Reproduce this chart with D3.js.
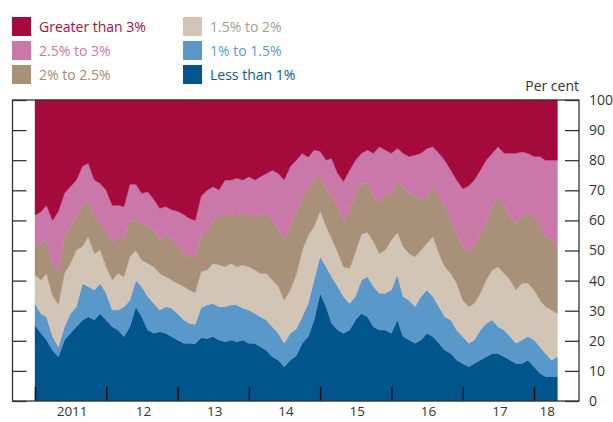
<!DOCTYPE html>
<html>
<head>
<meta charset="utf-8">
<script src="https://cdn.jsdelivr.net/npm/d3@7"></script>
<style>
  body { margin: 0; background: #fff; }
  svg { display: block; font-family: 'Open Sans', sans-serif; }
</style>
</head>
<body>
<div id="chart"></div>
<script>
// monthly shares (per cent), Jan 2011 .. May 2018
const lessThan1 = [
  25.2, 22.5, 20.3, 16.9, 14.7, 20.3, 22.5, 24.7, 26.9, 28.0,
  26.9, 29.1, 26.9, 24.7, 23.6, 21.4, 24.7, 31.3, 28.0, 23.6,
  22.5, 23.0, 22.5, 21.4, 20.3, 19.2, 19.2, 19.0, 21.0, 20.8,
  21.4, 20.3, 19.7, 20.3, 19.7, 20.3, 19.2, 19.2, 18.0, 16.9,
  14.7, 13.6, 11.4, 13.6, 15.0, 19.2, 21.4, 26.9, 35.8, 31.3,
  25.8, 23.6, 22.5, 23.6, 26.9, 29.1, 28.0, 24.7, 23.6, 23.6,
  22.5, 27.0, 21.4, 20.3, 19.2, 20.3, 22.5, 21.4, 19.2, 16.9,
  15.8, 13.6, 12.5, 11.4, 12.5, 13.6, 14.7, 15.8, 15.8, 14.7,
  13.6, 12.5, 12.5, 13.6, 11.4, 9.2, 8.1, 8.1, 8.1
];
const from1to1_5 = [
  7.2, 6.5, 7.7, 4.5, 3.3, 4.4, 6.5, 6.6, 12.1, 10.0,
  10.0, 9.9, 8.9, 5.5, 6.6, 9.9, 8.8, 8.7, 10.0, 11.1,
  9.9, 7.2, 8.8, 9.4, 8.7, 7.8, 6.6, 6.5, 10.0, 11.1,
  11.0, 11.0, 11.6, 11.6, 12.2, 10.5, 11.0, 9.9, 10.0, 10.0,
  10.0, 8.9, 7.8, 8.9, 9.0, 8.8, 11.0, 13.3, 12.2, 13.3,
  15.5, 14.4, 12.2, 8.8, 7.8, 11.1, 13.3, 13.3, 12.2, 12.2,
  14.4, 15.0, 13.3, 13.2, 12.1, 14.4, 14.4, 13.3, 12.1, 11.1,
  11.1, 10.0, 8.9, 7.8, 7.8, 10.0, 11.1, 11.1, 8.9, 8.9,
  7.8, 6.7, 7.8, 7.8, 8.9, 8.8, 7.7, 5.5, 6.6
];
const from1_5to2 = [
  9.5, 11.2, 14.4, 13.6, 14.0, 17.7, 16.7, 18.9, 12.3, 16.6,
  12.1, 11.2, 8.8, 10.0, 12.2, 10.0, 14.5, 10.0, 8.8, 11.0,
  12.2, 12.2, 10.0, 9.4, 10.0, 11.0, 11.1, 10.5, 12.0, 11.6,
  13.3, 13.9, 13.3, 13.8, 12.7, 14.4, 14.4, 14.4, 14.4, 15.5,
  15.5, 15.5, 14.3, 14.4, 18.0, 22.0, 22.6, 17.8, 15.0, 13.4,
  12.7, 11.5, 9.8, 11.6, 14.8, 15.3, 14.7, 15.0, 13.2, 14.4,
  16.6, 14.0, 16.6, 15.5, 16.5, 15.5, 15.5, 19.9, 17.7, 16.6,
  15.5, 15.5, 12.1, 12.1, 12.1, 12.2, 14.4, 16.6, 19.9, 18.8,
  18.8, 17.7, 18.8, 17.7, 16.6, 15.5, 15.5, 16.6, 14.4
];
const from2to2_5 = [
  9.9, 12.2, 11.1, 10.0, 11.0, 12.2, 12.2, 11.0, 13.3, 12.4,
  12.2, 8.8, 12.2, 12.2, 12.2, 12.2, 12.0, 10.0, 12.2, 12.3,
  12.2, 11.1, 13.7, 13.3, 12.3, 11.0, 11.1, 11.5, 12.0, 12.5,
  14.4, 16.6, 16.6, 16.6, 16.6, 17.7, 16.6, 18.3, 18.8, 20.5,
  19.9, 18.8, 20.0, 21.0, 21.0, 16.8, 15.1, 15.4, 12.0, 12.1,
  13.9, 15.1, 15.6, 18.3, 19.5, 16.8, 16.3, 14.9, 16.7, 18.8,
  14.4, 17.0, 19.9, 20.0, 20.1, 16.6, 15.5, 16.6, 18.9, 20.0,
  17.7, 16.6, 17.8, 18.2, 18.9, 19.9, 18.8, 21.1, 23.3, 22.2,
  21.0, 22.1, 22.1, 23.2, 24.3, 24.4, 23.3, 23.3, 21.9
];
const from2_5to3 = [
  10.0, 10.5, 11.5, 15.0, 20.0, 14.4, 13.3, 12.2, 13.4, 12.0,
  12.2, 13.3, 13.2, 12.6, 10.4, 11.1, 12.0, 12.0, 10.0, 11.5,
  10.2, 10.5, 9.6, 10.0, 11.7, 13.0, 12.7, 12.5, 13.0, 14.0,
  11.1, 8.3, 12.2, 11.1, 12.8, 10.5, 13.3, 11.6, 13.3, 12.7,
  16.6, 18.8, 19.9, 20.0, 17.0, 15.5, 10.9, 10.0, 8.0, 9.9,
  12.7, 11.0, 12.8, 14.4, 11.0, 10.0, 11.1, 14.4, 18.8, 14.4,
  14.4, 11.0, 11.1, 12.2, 13.8, 15.5, 16.0, 13.3, 14.4, 15.4,
  16.6, 17.7, 19.2, 22.0, 22.1, 21.0, 21.0, 17.7, 16.6, 17.7,
  21.1, 23.3, 21.6, 20.0, 20.0, 23.3, 25.4, 26.5, 29.0
];
const greaterThan3 = [
  38.2, 37.1, 35.0, 40.0, 37.0, 31.0, 28.8, 26.6, 22.0, 21.0,
  26.6, 27.7, 30.0, 35.0, 35.0, 35.4, 28.0, 28.0, 31.0, 30.5,
  33.0, 36.0, 35.4, 36.5, 37.0, 38.0, 39.3, 40.0, 32.0, 30.0,
  28.8, 29.9, 26.6, 26.6, 26.0, 26.6, 25.5, 26.6, 25.5, 24.4,
  23.3, 24.4, 26.6, 22.1, 20.0, 17.7, 19.0, 16.6, 17.0, 20.0,
  19.4, 24.4, 27.1, 23.3, 20.0, 17.7, 16.6, 17.7, 15.5, 16.6,
  17.7, 16.0, 17.7, 18.8, 18.3, 17.7, 16.1, 15.5, 17.7, 20.0,
  23.3, 26.6, 29.5, 28.5, 26.6, 23.3, 20.0, 17.7, 15.5, 17.7,
  17.7, 17.7, 17.2, 17.7, 18.8, 18.8, 20.0, 20.0, 20.0
];

const seriesKeys = ['lessThan1', 'from1to1_5', 'from1_5to2', 'from2to2_5', 'from2_5to3', 'greaterThan3'];
const seriesLabels = ['Less than 1%', '1% to 1.5%', '1.5% to 2%', '2% to 2.5%', '2.5% to 3%', 'Greater than 3%'];
const seriesColors = ['#00568c', '#5b98ca', '#d3c5b6', '#a89079', '#c978a9', '#a50a3d'];
const labelColors = ['#0b5a8c', '#5b98ca', '#a59d94', '#a08b77', '#c97aaa', '#a5103f'];

const xTickYears = [2011, 2012, 2013, 2014, 2015, 2016, 2017, 2018];
const xTickLabels = ['2011', '12', '13', '14', '15', '16', '17', '18'];
const yTicks = [0, 10, 20, 30, 40, 50, 60, 70, 80, 90, 100];

const width = 613, height = 422;
const frame = {left: 12.5, right: 579, top: 100, bottom: 401};
const tickLen = 14;
const axisColor = '#333';

const months = d3.timeMonth.range(new Date(2011, 0, 1), new Date(2018, 4, 2));
const columns = [lessThan1, from1to1_5, from1_5to2, from2to2_5, from2_5to3, greaterThan3];
const table = months.map((d, i) => {
  const row = {date: d};
  seriesKeys.forEach((k, j) => { row[k] = columns[j][i]; });
  return row;
});

const x = d3.scaleTime()
  .domain([new Date(2011, 0, 1), new Date(2018, 0, 1)])
  .range([35, 534]);
const y = d3.scaleLinear()
  .domain([0, 100])
  .range([frame.bottom, frame.top]);

const svg = d3.select('#chart').append('svg')
  .attr('width', width)
  .attr('height', height);

const stacked = d3.stack().keys(seriesKeys).offset(d3.stackOffsetExpand)(table);

const area = d3.area()
  .x(d => x(d.data.date))
  .y0(d => y(d[0] * 100))
  .y1(d => y(d[1] * 100));

svg.append('g')
  .selectAll('path')
  .data(stacked)
  .enter().append('path')
  .attr('d', area)
  .attr('fill', (d, i) => seriesColors[i])
  .attr('stroke', (d, i) => seriesColors[i])
  .attr('stroke-width', 0.4);

// inward ticks on left, right and bottom
svg.append('g')
  .attr('transform', `translate(${frame.left},0)`)
  .call(d3.axisLeft(y).tickValues(yTicks).tickSize(-tickLen).tickFormat(''))
  .call(g => g.select('.domain').remove())
  .call(g => g.selectAll('line').attr('stroke', axisColor).attr('stroke-width', 1.3));

svg.append('g')
  .attr('transform', `translate(${frame.right},0)`)
  .call(d3.axisRight(y).tickValues(yTicks).tickSize(-tickLen).tickPadding(10))
  .call(g => g.select('.domain').remove())
  .call(g => g.selectAll('line').attr('stroke', axisColor).attr('stroke-width', 1.3))
  .call(g => g.selectAll('text')
    .attr('fill', '#333')
    .style('font-size', '14px')
    .style('font-family', "'Open Sans', sans-serif"));

svg.append('g')
  .attr('transform', `translate(0,${frame.bottom})`)
  .call(d3.axisBottom(x)
    .tickValues(xTickYears.map(yr => new Date(yr, 0, 1)))
    .tickSize(-tickLen)
    .tickFormat(''))
  .call(g => g.select('.domain').remove())
  .call(g => g.selectAll('line').attr('stroke', '#111').attr('stroke-width', 1.5));

const lastDate = months[months.length - 1];
svg.append('g')
  .selectAll('text')
  .data(xTickYears)
  .enter().append('text')
  .attr('x', (yr) => {
    const start = new Date(yr, 0, 1);
    const end = d3.min([new Date(yr + 1, 0, 1), lastDate]);
    return (x(start) + x(end)) / 2 + 1.5;
  })
  .attr('y', 416)
  .attr('text-anchor', 'middle')
  .attr('fill', '#333')
  .style('font-size', '13.5px')
  .text((yr, i) => xTickLabels[i]);

svg.append('rect')
  .attr('x', frame.left)
  .attr('y', frame.top)
  .attr('width', frame.right - frame.left)
  .attr('height', frame.bottom - frame.top)
  .attr('fill', 'none')
  .attr('stroke', axisColor)
  .attr('stroke-width', 1.3);

svg.append('text')
  .text('Per cent')
  .attr('x', frame.right)
  .attr('y', 91)
  .attr('text-anchor', 'end')
  .attr('fill', '#333')
  .style('font-size', '14px');

// legend: two columns, top to bottom
const legendOrder = [5, 4, 3, 2, 1, 0];
const legend = svg.append('g')
  .selectAll('g')
  .data(legendOrder)
  .enter().append('g')
  .attr('transform', (d, i) => `translate(${i < 3 ? 12 : 183},${17 + (i % 3) * 24})`);

legend.append('rect')
  .attr('width', 19)
  .attr('height', 19)
  .attr('fill', d => seriesColors[d]);

legend.append('text')
  .attr('x', 27)
  .attr('y', 14.5)
  .attr('fill', d => labelColors[d])
  .style('font-size', '14px')
  .text(d => seriesLabels[d]);
</script>
</body>
</html>
